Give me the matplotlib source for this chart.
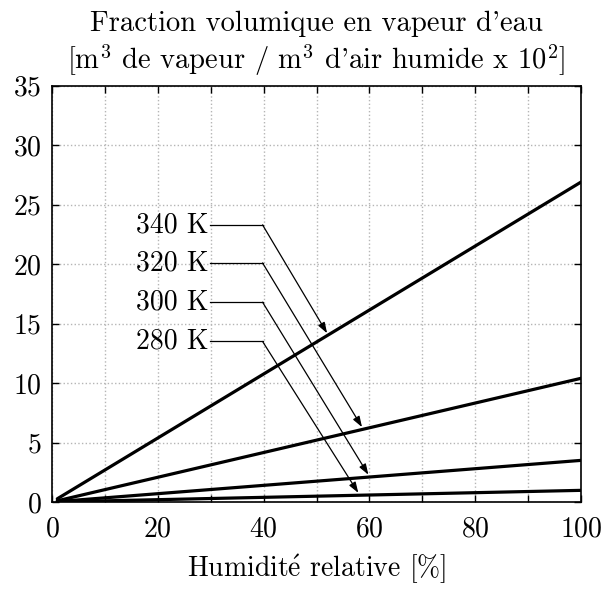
import numpy as np
import matplotlib
matplotlib.use("Agg")
import matplotlib.pyplot as plt
from matplotlib.ticker import MultipleLocator

# ───── DATA ─────
humidity = [1, 10, 20, 30, 40, 50, 60, 70, 80, 90, 100]
frac_340 = [0.27, 2.69, 5.38, 8.07, 10.76, 13.45, 16.14, 18.83, 21.52, 24.21, 26.9]
frac_320 = [0.10, 1.04, 2.08, 3.12, 4.16, 5.20, 6.24, 7.28, 8.32, 9.36, 10.4]
frac_300 = [0.035, 0.35, 0.70, 1.05, 1.40, 1.75, 2.10, 2.45, 2.80, 3.15, 3.5]
frac_280 = [0.01, 0.098, 0.196, 0.294, 0.392, 0.49, 0.588, 0.686, 0.784, 0.882, 0.98]

labels = ["340 K", "320 K", "300 K", "280 K"]
series = [frac_340, frac_320, frac_300, frac_280]

# annotation layout (label height, where the arrow lands on x)
label_y = [23.3, 20.1, 16.8, 13.5]
tip_x = [52.0, 58.6, 59.8, 57.9]

# ───── STYLE ─────
plt.rcParams["font.family"] = ["cmr10", "DejaVu Serif"]
plt.rcParams["mathtext.fontset"] = "cm"
plt.rcParams["axes.formatter.use_mathtext"] = True
plt.rcParams["font.size"] = 20

fig = plt.figure(figsize=(6.06, 5.89), dpi=100)
ax = fig.add_axes([0.0858, 0.1477, 0.873, 0.7068])

for vals in series:
    ax.plot(humidity, vals, color="black", lw=2.3, solid_capstyle="round")

for lab, ly, tx, vals in zip(labels, label_y, tip_x, series):
    ty = np.interp(tx, humidity, vals) + 0.2
    ax.text(29.6, ly, lab, ha="right", va="center")
    ax.plot([29.8, 39.8], [ly, ly], color="black", lw=0.9)
    ax.annotate("", xy=(tx, ty), xytext=(39.8, ly),
                arrowprops=dict(arrowstyle="-|>,head_length=0.32,head_width=0.11",
                                color="black", lw=0.9, shrinkA=0, shrinkB=0))

ax.set_xlim(0, 100)
ax.set_ylim(0, 35)
ax.xaxis.set_major_locator(MultipleLocator(20))
ax.xaxis.set_minor_locator(MultipleLocator(10))
ax.yaxis.set_major_locator(MultipleLocator(5))
ax.tick_params(which="both", direction="in", top=True, right=True, length=5, width=1)
ax.tick_params(axis="x", pad=10.5)
ax.tick_params(axis="y", pad=7.5)
ax.grid(which="both", color="#b5b5b5", linestyle=":", linewidth=1)
for sp in ax.spines.values():
    sp.set_linewidth(1.2)

ax.set_xlabel(r"Humidit$\mathrm{\acute{e}}$ relative [%]", labelpad=7)
ax.set_title("Fraction volumique en vapeur d'eau\n"
             r"[m$^3$ de vapeur / m$^3$ d'air humide x 10$^2$]",
             fontsize=20.6, pad=12, linespacing=1.2)

fig.savefig("out.png", dpi=100)
